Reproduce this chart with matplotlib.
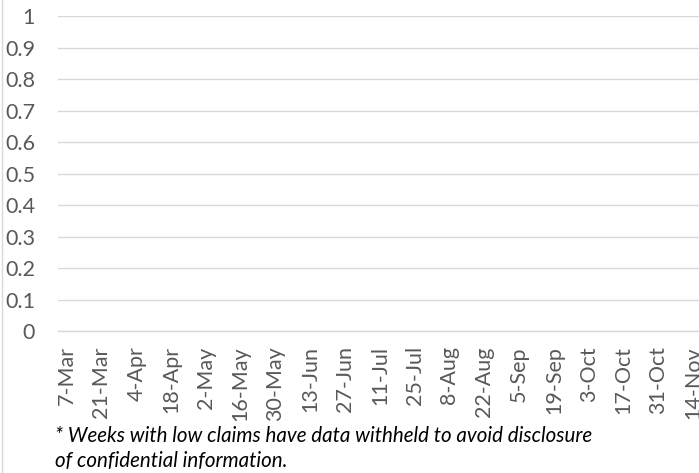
import numpy as np
import matplotlib
matplotlib.use("Agg")
import matplotlib.pyplot as plt
from matplotlib.lines import Line2D

# weekly categories (labels shown every other week)
weeks = ["7-Mar", "14-Mar", "21-Mar", "28-Mar", "4-Apr", "11-Apr", "18-Apr", "25-Apr",
         "2-May", "9-May", "16-May", "23-May", "30-May", "6-Jun", "13-Jun", "20-Jun",
         "27-Jun", "4-Jul", "11-Jul", "18-Jul", "25-Jul", "1-Aug", "8-Aug", "15-Aug",
         "22-Aug", "29-Aug", "5-Sep", "12-Sep", "19-Sep", "26-Sep", "3-Oct", "10-Oct",
         "17-Oct", "24-Oct", "31-Oct", "7-Nov", "14-Nov", "21-Nov"]
# all values withheld
claims = [np.nan] * len(weeks)
yticks = [0, 0.1, 0.2, 0.3, 0.4, 0.5, 0.6, 0.7, 0.8, 0.9, 1]
ylabels = ["0", "0.1", "0.2", "0.3", "0.4", "0.5", "0.6", "0.7", "0.8", "0.9", "1"]
note1 = "* Weeks with low claims have data withheld to avoid disclosure"
note2 = "of confidential information."

W, H = 699, 473
plt.rcParams['font.family'] = ['Lato', 'DejaVu Sans']
fig = plt.figure(figsize=(W / 100, H / 100), dpi=100)

step = 17.4  # px per week
left, bottom, top = 58, 331, 16
ax = fig.add_axes([left / W, (H - bottom) / H, len(weeks) * step / W, (bottom - top) / H])

x = np.arange(len(weeks))
ax.plot(x, claims)
ax.set_xlim(-0.5, len(weeks) - 0.5)
ax.set_ylim(0, 1)

ax.set_yticks(yticks)
ax.set_yticklabels(ylabels)
ax.set_xticks(x[::2])
ax.set_xticklabels(weeks[::2], rotation=90, va="top", ha="center")

ax.grid(axis="y", color="#D9D9D9", linewidth=1.0)
ax.set_axisbelow(True)
for s in ax.spines.values():
    s.set_visible(False)
ax.spines["bottom"].set_visible(True)
ax.spines["bottom"].set_color("#D9D9D9")
ax.spines["bottom"].set_linewidth(1.0)
ax.tick_params(axis="both", length=0, colors="#595959", labelsize=15.5)
ax.tick_params(axis="y", pad=16.5)
ax.tick_params(axis="x", pad=11.0)

# chart border on left edge
fig.add_artist(Line2D([1.5 / W, 1.5 / W], [0, 1], transform=fig.transFigure,
                      color="#D9D9D9", linewidth=1.0))

# footnote
fig.text(55 / W, (H - 442) / H, note1, fontsize=14.8, style="italic",
         color="black", va="baseline", ha="left")
fig.text(55 / W, (H - 467) / H, note2, fontsize=14.8, style="italic",
         color="black", va="baseline", ha="left")

fig.savefig("out.png", dpi=100)
